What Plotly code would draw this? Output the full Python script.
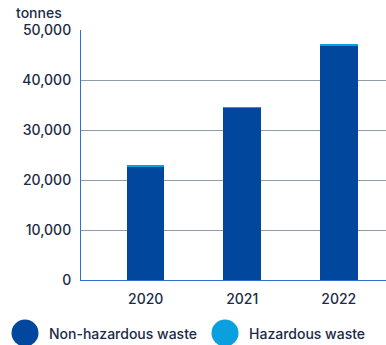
import plotly.graph_objects as go

years = ["2020", "2021", "2022"]
non_hazardous = [22600, 34450, 46950]
hazardous = [400, 150, 300]
y_ticks = [0, 10000, 20000, 30000, 40000, 50000]
y_tick_labels = ["0", "10,000", "20,000", "30,000", "40,000", "50,000"]

DARK_BLUE = "#00479d"
LIGHT_BLUE = "#0a9fdf"
TEXT = "#1b2a47"
FONT = "Inter"
FS = 14
FW = 500

fig = go.Figure()
fig.add_trace(go.Bar(x=years, y=non_hazardous, name="Non-hazardous waste",
                     marker=dict(color=DARK_BLUE, line=dict(width=0)),
                     width=0.39, showlegend=False))
fig.add_trace(go.Bar(x=years, y=hazardous, name="Hazardous waste",
                     marker=dict(color=LIGHT_BLUE, line=dict(width=0)),
                     width=0.39, showlegend=False))

L, T, B, W, H = 81, 30, 65, 386, 345
pw, ph = W - L, H - T - B

def px_x(x):
    return (x - L) / pw

def px_y(y):
    return (H - B - y) / ph

font = dict(size=FS, color=TEXT, family=FONT, weight=FW)

# legend: large round swatches with labels beneath the plot
legend_items = [("Non-hazardous waste", DARK_BLUE, 25, 47),
                ("Hazardous waste", LIGHT_BLUE, 225, 247)]
r = 13.5
for label, color, cx, tx in legend_items:
    fig.add_shape(type="circle", xref="paper", yref="paper",
                  x0=px_x(cx - r), x1=px_x(cx + r),
                  y0=px_y(333 + r), y1=px_y(333 - r),
                  fillcolor=color, line=dict(width=0))
    fig.add_annotation(text=label, xref="paper", yref="paper",
                       x=px_x(tx), y=px_y(333), xanchor="left", yanchor="middle",
                       showarrow=False, font=font)

fig.add_annotation(text="tonnes", xref="paper", yref="paper",
                   x=px_x(14), y=px_y(13), xanchor="left", yanchor="middle",
                   showarrow=False, font=font)

fig.update_layout(
    barmode="stack",
    width=W, height=H,
    margin=dict(l=L, r=0, t=T, b=B),
    paper_bgcolor="white", plot_bgcolor="white",
    font=font,
    xaxis=dict(range=[-0.67, 2.49], showgrid=False, showline=True,
               linecolor="#2f6fce", linewidth=1, ticks="",
               tickfont=font, ticklabelstandoff=6),
    yaxis=dict(range=[0, 50000], tickvals=y_ticks, ticktext=y_tick_labels,
               showgrid=True, gridcolor="#8d9bab", gridwidth=1,
               showline=True, linecolor="#2f6fce", linewidth=1,
               zeroline=False, ticks="", ticklabelstandoff=6,
               tickfont=font),
)

fig.write_html("out.html")
